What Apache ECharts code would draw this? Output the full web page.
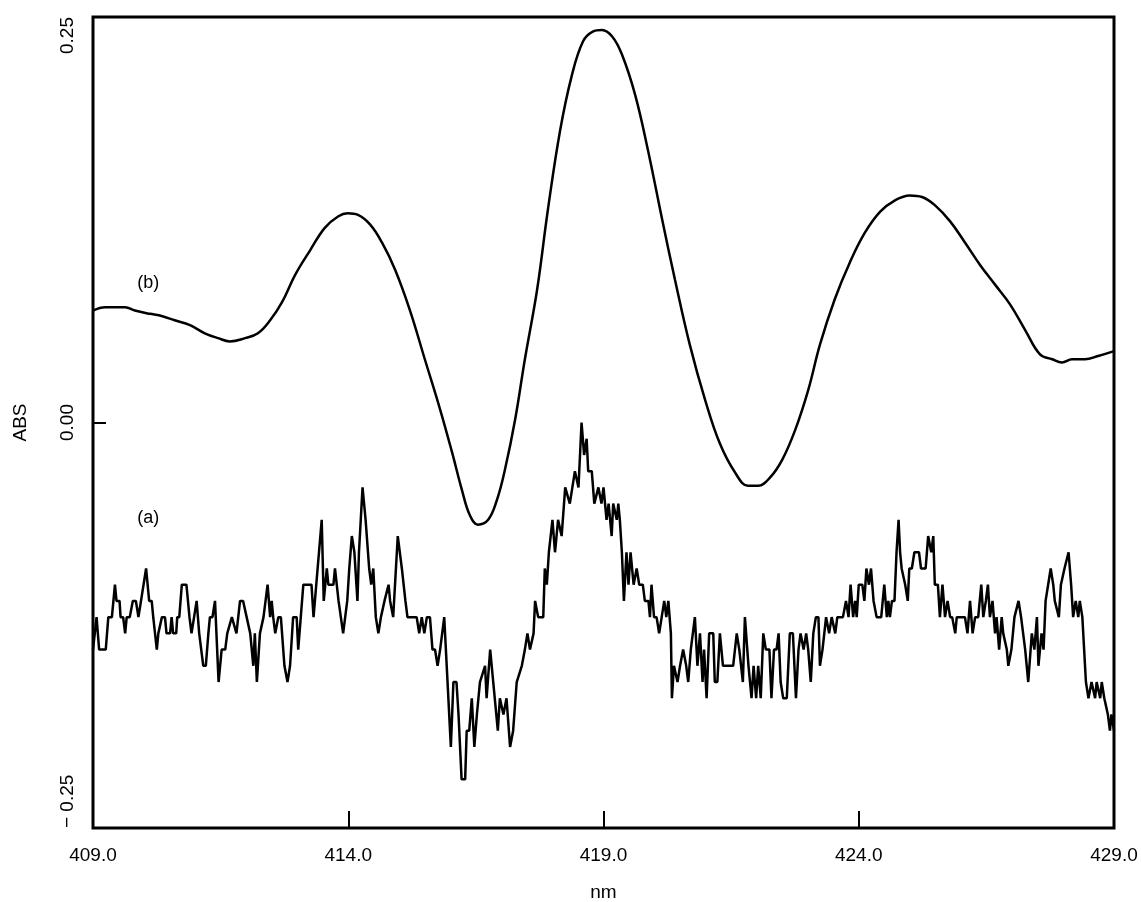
<!DOCTYPE html>
<html>
<head>
<meta charset="utf-8">
<title>ABS vs nm</title>
<script src="https://cdn.jsdelivr.net/npm/echarts@6/dist/echarts.min.js"></script>
<style>
  html, body { margin: 0; padding: 0; background: #fff; }
  #main { width: 1141px; height: 902px; }
</style>
</head>
<body>
<div id="main"></div>
<script>
// axis ticks
var xTicks = [409, 414, 419, 424, 429];
var yTicks = [-0.25, 0, 0.25];

// (b) smooth spectrum
var bNm = [409.00, 409.24, 409.49, 409.63, 409.82, 410.12, 410.31, 410.60, 410.90, 411.19,
  411.45, 411.68, 411.98, 412.23, 412.47, 412.70, 412.96, 413.25, 413.54, 413.80,
  413.99, 414.19, 414.43, 414.66, 414.92, 415.21, 415.50, 415.80, 416.03, 416.23,
  416.38, 416.54, 416.74, 416.91, 417.07, 417.27, 417.46, 417.70, 417.91, 418.15,
  418.38, 418.60, 418.79, 418.97, 419.17, 419.36, 419.62, 419.87, 420.15, 420.40,
  420.69, 420.99, 421.28, 421.58, 421.83, 422.03, 422.26, 422.50, 422.75, 423.01,
  423.24, 423.53, 423.83, 424.12, 424.42, 424.71, 425.00, 425.24, 425.49, 425.79,
  426.08, 426.38, 426.67, 426.96, 427.26, 427.55, 427.79, 427.98, 428.18, 428.43,
  428.69, 429.00];
var bAbs = [0.069, 0.071, 0.071, 0.071, 0.069, 0.067, 0.066, 0.063, 0.060, 0.055,
  0.052, 0.050, 0.052, 0.055, 0.063, 0.074, 0.091, 0.106, 0.120, 0.127,
  0.129, 0.128, 0.122, 0.111, 0.094, 0.069, 0.039, 0.008, -0.018, -0.042,
  -0.057, -0.063, -0.060, -0.048, -0.029, 0.002, 0.039, 0.082, 0.131, 0.180,
  0.214, 0.235, 0.241, 0.242, 0.238, 0.227, 0.202, 0.168, 0.125, 0.088,
  0.048, 0.014, -0.013, -0.031, -0.039, -0.039, -0.034, -0.023, -0.005, 0.020,
  0.048, 0.076, 0.099, 0.117, 0.130, 0.137, 0.140, 0.139, 0.134, 0.124,
  0.111, 0.097, 0.085, 0.073, 0.057, 0.042, 0.039, 0.037, 0.039, 0.039,
  0.041, 0.044];

// (a) noisy spectrum
var aNm = [409.00, 409.07, 409.12, 409.25, 409.30, 409.37, 409.43, 409.46, 409.52, 409.54,
  409.59, 409.63, 409.66, 409.72, 409.78, 409.84, 409.89, 410.04, 410.10, 410.15,
  410.18, 410.25, 410.28, 410.35, 410.41, 410.44, 410.51, 410.54, 410.57, 410.63,
  410.65, 410.69, 410.74, 410.83, 410.89, 410.93, 410.98, 411.03, 411.08, 411.16,
  411.21, 411.26, 411.29, 411.34, 411.39, 411.46, 411.52, 411.59, 411.63, 411.72,
  411.75, 411.81, 411.88, 411.94, 412.01, 412.08, 412.14, 412.17, 412.21, 412.27,
  412.34, 412.42, 412.47, 412.50, 412.53, 412.57, 412.63, 412.68, 412.75, 412.81,
  412.86, 412.92, 412.99, 413.02, 413.07, 413.12, 413.28, 413.32, 413.48, 413.52,
  413.58, 413.61, 413.71, 413.74, 413.81, 413.90, 413.94, 413.98, 414.02, 414.07,
  414.12, 414.18, 414.21, 414.28, 414.34, 414.41, 414.45, 414.49, 414.54, 414.59,
  414.64, 414.71, 414.79, 414.82, 414.88, 414.97, 415.05, 415.12, 415.16, 415.34,
  415.39, 415.44, 415.49, 415.54, 415.60, 415.65, 415.70, 415.75, 415.80, 415.88,
  416.01, 416.06, 416.12, 416.16, 416.22, 416.29, 416.32, 416.37, 416.42, 416.47,
  416.52, 416.58, 416.68, 416.71, 416.78, 416.84, 416.93, 416.97, 417.04, 417.10,
  417.17, 417.23, 417.30, 417.40, 417.46, 417.51, 417.56, 417.63, 417.66, 417.72,
  417.82, 417.85, 417.89, 417.93, 418.00, 418.05, 418.11, 418.18, 418.25, 418.34,
  418.44, 418.51, 418.57, 418.62, 418.67, 418.70, 418.77, 418.82, 418.90, 418.96,
  419.00, 419.03, 419.06, 419.10, 419.16, 419.19, 419.26, 419.29, 419.32, 419.36,
  419.40, 419.45, 419.49, 419.53, 419.59, 419.65, 419.70, 419.77, 419.81, 419.88,
  419.91, 419.94, 419.99, 420.04, 420.09, 420.14, 420.19, 420.23, 420.27, 420.32,
  420.34, 420.38, 420.45, 420.50, 420.56, 420.62, 420.66, 420.71, 420.75, 420.79,
  420.84, 420.89, 420.94, 420.97, 421.02, 421.07, 421.15, 421.18, 421.23, 421.28,
  421.34, 421.41, 421.48, 421.54, 421.61, 421.66, 421.73, 421.77, 421.84, 421.90,
  421.94, 421.99, 422.03, 422.08, 422.13, 422.18, 422.25, 422.29, 422.34, 422.39,
  422.43, 422.47, 422.52, 422.59, 422.65, 422.71, 422.77, 422.82, 422.86, 422.92,
  422.97, 423.01, 423.06, 423.11, 423.16, 423.21, 423.24, 423.29, 423.36, 423.42,
  423.47, 423.54, 423.58, 423.69, 423.75, 423.80, 423.84, 423.89, 423.93, 423.96,
  424.00, 424.07, 424.11, 424.15, 424.20, 424.24, 424.29, 424.35, 424.44, 424.50,
  424.55, 424.58, 424.61, 424.65, 424.70, 424.74, 424.78, 424.81, 424.84, 424.91,
  424.96, 424.99, 425.04, 425.09, 425.18, 425.22, 425.31, 425.36, 425.42, 425.46,
  425.49, 425.55, 425.59, 425.64, 425.69, 425.74, 425.79, 425.83, 425.89, 425.92,
  426.08, 426.13, 426.18, 426.23, 426.28, 426.34, 426.40, 426.44, 426.49, 426.53,
  426.57, 426.62, 426.67, 426.70, 426.75, 426.80, 426.83, 426.90, 426.93, 426.99,
  427.05, 427.13, 427.18, 427.26, 427.32, 427.39, 427.44, 427.49, 427.52, 427.58,
  427.62, 427.66, 427.71, 427.76, 427.81, 427.84, 427.92, 427.96, 428.03, 428.11,
  428.16, 428.20, 428.25, 428.30, 428.33, 428.38, 428.45, 428.50, 428.56, 428.63,
  428.66, 428.73, 428.76, 428.81, 428.88, 428.92, 428.95, 429.00];
var aAbs = [-0.14, -0.12, -0.14, -0.14, -0.12, -0.12, -0.10, -0.11, -0.11, -0.12,
  -0.12, -0.13, -0.12, -0.12, -0.11, -0.11, -0.12, -0.09, -0.11, -0.11,
  -0.12, -0.14, -0.13, -0.12, -0.12, -0.13, -0.13, -0.12, -0.13, -0.13,
  -0.12, -0.12, -0.10, -0.10, -0.12, -0.13, -0.12, -0.11, -0.13, -0.15,
  -0.15, -0.13, -0.12, -0.12, -0.11, -0.16, -0.14, -0.14, -0.13, -0.12,
  -0.12, -0.13, -0.11, -0.11, -0.12, -0.13, -0.15, -0.13, -0.16, -0.13,
  -0.12, -0.10, -0.12, -0.11, -0.12, -0.13, -0.12, -0.12, -0.15, -0.16,
  -0.15, -0.12, -0.12, -0.14, -0.12, -0.10, -0.10, -0.12, -0.06, -0.11,
  -0.09, -0.10, -0.10, -0.09, -0.11, -0.13, -0.12, -0.11, -0.09, -0.07,
  -0.08, -0.11, -0.08, -0.04, -0.06, -0.09, -0.10, -0.09, -0.12, -0.13,
  -0.12, -0.11, -0.10, -0.11, -0.12, -0.07, -0.09, -0.11, -0.12, -0.12,
  -0.13, -0.12, -0.13, -0.12, -0.12, -0.14, -0.14, -0.15, -0.14, -0.12,
  -0.20, -0.16, -0.16, -0.18, -0.22, -0.22, -0.19, -0.19, -0.17, -0.20,
  -0.18, -0.16, -0.15, -0.17, -0.14, -0.16, -0.19, -0.17, -0.18, -0.17,
  -0.20, -0.19, -0.16, -0.15, -0.14, -0.13, -0.14, -0.13, -0.11, -0.12,
  -0.12, -0.09, -0.10, -0.08, -0.06, -0.08, -0.06, -0.07, -0.04, -0.05,
  -0.03, -0.04, 0.00, -0.02, -0.01, -0.03, -0.03, -0.05, -0.04, -0.05,
  -0.04, -0.05, -0.06, -0.05, -0.07, -0.05, -0.06, -0.05, -0.06, -0.08,
  -0.11, -0.08, -0.10, -0.08, -0.10, -0.09, -0.10, -0.10, -0.11, -0.11,
  -0.12, -0.10, -0.12, -0.12, -0.13, -0.12, -0.11, -0.12, -0.11, -0.13,
  -0.17, -0.15, -0.16, -0.15, -0.14, -0.15, -0.16, -0.14, -0.13, -0.12,
  -0.15, -0.13, -0.16, -0.14, -0.17, -0.13, -0.13, -0.16, -0.16, -0.13,
  -0.15, -0.15, -0.15, -0.15, -0.13, -0.14, -0.16, -0.12, -0.15, -0.17,
  -0.15, -0.17, -0.15, -0.17, -0.13, -0.14, -0.14, -0.17, -0.14, -0.14,
  -0.13, -0.16, -0.17, -0.17, -0.13, -0.13, -0.17, -0.14, -0.13, -0.14,
  -0.13, -0.14, -0.16, -0.13, -0.12, -0.12, -0.15, -0.14, -0.12, -0.13,
  -0.12, -0.13, -0.12, -0.12, -0.11, -0.12, -0.10, -0.12, -0.11, -0.12,
  -0.10, -0.10, -0.11, -0.09, -0.10, -0.09, -0.11, -0.12, -0.12, -0.10,
  -0.12, -0.11, -0.12, -0.11, -0.11, -0.08, -0.06, -0.08, -0.09, -0.10,
  -0.11, -0.09, -0.09, -0.08, -0.08, -0.09, -0.09, -0.07, -0.08, -0.07,
  -0.10, -0.10, -0.12, -0.10, -0.12, -0.11, -0.12, -0.12, -0.13, -0.12,
  -0.12, -0.13, -0.11, -0.13, -0.12, -0.12, -0.10, -0.12, -0.11, -0.10,
  -0.12, -0.11, -0.13, -0.12, -0.14, -0.12, -0.13, -0.14, -0.15, -0.14,
  -0.12, -0.11, -0.12, -0.14, -0.16, -0.13, -0.14, -0.12, -0.15, -0.13,
  -0.14, -0.11, -0.10, -0.09, -0.10, -0.11, -0.12, -0.10, -0.09, -0.08,
  -0.10, -0.12, -0.11, -0.12, -0.11, -0.12, -0.16, -0.17, -0.16, -0.17,
  -0.16, -0.17, -0.16, -0.17, -0.18, -0.19, -0.18, -0.19];

// curve labels: [nm, abs, text]
var curveTags = [[410.08, 0.086, '(b)'], [410.08, -0.059, '(a)']];

function zip(xs, ys) {
  return xs.map(function (x, i) { return [x, ys[i]]; });
}

var font = "'Liberation Sans', Arial, sans-serif";
var ink = '#000';

var myChart = echarts.init(document.getElementById('main'), null, { renderer: 'canvas' });
var option = {
  backgroundColor: '#fff',
  animation: false,
  grid: {
    left: 93, right: 27, top: 17, bottom: 74,
    show: true,
    borderColor: ink,
    borderWidth: 3,
    outerBoundsMode: 'none'
  },
  xAxis: {
    type: 'value',
    min: 409,
    max: 429,
    name: 'nm',
    nameLocation: 'middle',
    nameGap: 55,
    nameMoveOverlap: false,
    nameTextStyle: { fontFamily: font, fontSize: 19, color: ink },
    axisLine: { show: false, onZero: false },
    axisTick: { inside: true, length: 17, lineStyle: { color: ink, width: 2 }, customValues: xTicks },
    axisLabel: {
      margin: 18,
      fontFamily: font, fontSize: 19, color: ink,
      customValues: xTicks,
      formatter: function (v) { return v.toFixed(1); }
    },
    splitLine: { show: false }
  },
  yAxis: {
    type: 'value',
    min: -0.25,
    max: 0.25,
    name: 'ABS',
    nameLocation: 'middle',
    nameRotate: 90,
    nameGap: 63,
    nameMoveOverlap: false,
    nameTextStyle: { fontFamily: font, fontSize: 19, color: ink },
    axisLine: { show: false, onZero: false },
    axisTick: { inside: true, length: 13, lineStyle: { color: ink, width: 2 }, customValues: yTicks },
    axisLabel: {
      rotate: 90,
      margin: 16,
      fontFamily: font, fontSize: 19, color: ink,
      customValues: yTicks,
      alignMinLabel: 'left',
      alignMaxLabel: 'right',
      formatter: function (v) {
        if (v === 0) return '0.00';
        return v < 0 ? '\u2212 ' + Math.abs(v).toFixed(2) : v.toFixed(2);
      }
    },
    splitLine: { show: false }
  },
  series: [
    {
      name: '(b)',
      type: 'line',
      data: zip(bNm, bAbs),
      smooth: 0.4,
      showSymbol: false,
      lineStyle: { color: ink, width: 2.5 },
      markPoint: {
        symbol: 'circle',
        symbolSize: 1,
        itemStyle: { color: 'rgba(0,0,0,0)' },
        label: { show: true, position: 'inside', fontFamily: font, fontSize: 18, color: ink },
        data: curveTags.map(function (t) { return { coord: [t[0], t[1]], value: t[2] }; })
      }
    },
    {
      name: '(a)',
      type: 'line',
      data: zip(aNm, aAbs),
      showSymbol: false,
      lineStyle: { color: ink, width: 2.5 }
    }
  ]
};
myChart.setOption(option);
</script>
</body>
</html>
